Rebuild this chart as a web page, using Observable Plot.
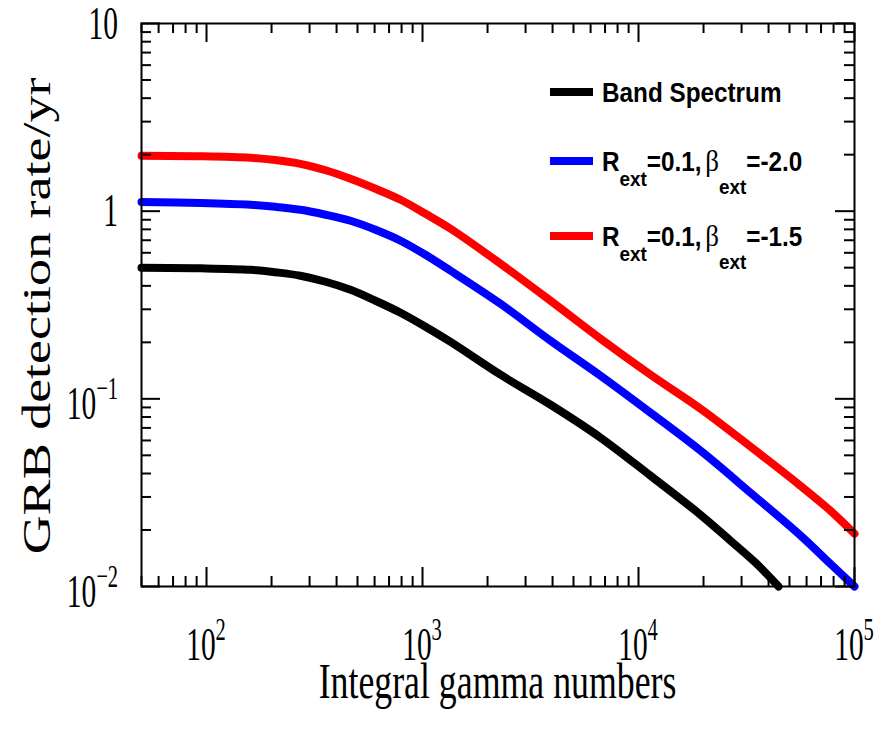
<!DOCTYPE html>
<html><head><meta charset="utf-8">
<script src="https://cdn.jsdelivr.net/npm/d3@7"></script>
<script src="https://cdn.jsdelivr.net/npm/@observablehq/plot@0.6"></script>
<style>body{margin:0;background:#fff}</style>
</head><body><div id="chart"></div>
<script>
// ---- data ----
const seriesNames = ["Band Spectrum", "R_ext=0.1, β_ext=-2.0", "R_ext=0.1, β_ext=-1.5"];
const seriesColors = ["#000000", "#0000ff", "#ff0000"];

const bandX = [50, 94, 160, 208, 272, 356, 464, 606, 791, 1032, 1349, 2297, 3916, 6673, 11370, 19370, 26660, 34800, 44500];
const bandY = [0.499, 0.496, 0.487, 0.4726, 0.453, 0.4206, 0.381, 0.3332, 0.2875, 0.2421, 0.201, 0.1344, 0.093, 0.0621, 0.0389, 0.0241, 0.01754, 0.01339, 0.0100];

const extX = [50, 94, 160, 208, 272, 356, 464, 606, 791, 1032, 1349, 2297, 3916, 6673, 11370, 19370, 33000, 56230, 77400, 100000];
const beta20Y = [1.119, 1.106, 1.082, 1.055, 1.017, 0.957, 0.889, 0.796, 0.696, 0.5856, 0.4815, 0.321, 0.204, 0.1327, 0.0843, 0.0529, 0.0316, 0.0187, 0.0132, 0.0100];
const beta15Y = [1.973, 1.961, 1.925, 1.872, 1.788, 1.652, 1.488, 1.316, 1.150, 0.968, 0.806, 0.525, 0.333, 0.209, 0.1344, 0.0886, 0.0556, 0.0344, 0.02534, 0.0191];

const xMajorTicks = [100, 1000, 10000, 100000];
const xTickExponents = ["2", "3", "4", "5"];
const yMajorTicks = [0.01, 0.1, 1, 10];
const yTickLabels = [["10", "−2"], ["10", "−1"], ["1", ""], ["10", ""]];
const xLabel = "Integral gamma numbers";
const yLabel = "GRB detection rate/yr";

// minor ticks 2..9 per decade
const xMinorTicks = [], yMinorTicks = [];
for (const d of [10, 100, 1000, 10000]) for (let k = 2; k <= 9; k++) { const v = k * d; if (v >= 50 && v < 1e5) xMinorTicks.push(v); }
for (const d of [0.01, 0.1, 1]) for (let k = 2; k <= 9; k++) yMinorTicks.push(k * d);

const rows = [
  ...bandX.map((x, i) => ({series: seriesNames[0], x, y: bandY[i]})),
  ...extX.map((x, i) => ({series: seriesNames[1], x, y: beta20Y[i]})),
  ...extX.map((x, i) => ({series: seriesNames[2], x, y: beta15Y[i]}))
];

// ---- layout ----
const W = 885, H = 731, mL = 141, mR = 31, mT = 23, mB = 145;
const plotW = W - mL - mR, plotH = H - mT - mB;
const majorLen = 19, minorLen = 10;
const tickStyle = {stroke: "#000", strokeWidth: 2};

const chart = Plot.plot({
  width: W, height: H,
  marginLeft: mL, marginRight: mR, marginTop: mT, marginBottom: mB,
  style: {background: "#fff"},
  x: {type: "log", domain: [50, 1e5], axis: null},
  y: {type: "log", domain: [0.01, 10], axis: null},
  color: {domain: seriesNames, range: seriesColors},
  marks: [
    Plot.line(rows, {x: "x", y: "y", z: "series", stroke: "series", strokeWidth: 8, curve: "catmull-rom", strokeLinecap: "round", strokeLinejoin: "round"}),
    // bottom ticks
    Plot.tickX(xMajorTicks, {x: d => d, insetTop: plotH - majorLen, ...tickStyle}),
    Plot.tickX(xMinorTicks, {x: d => d, insetTop: plotH - minorLen, ...tickStyle}),
    // top ticks
    Plot.tickX(xMajorTicks, {x: d => d, insetBottom: plotH - majorLen, ...tickStyle}),
    Plot.tickX(xMinorTicks, {x: d => d, insetBottom: plotH - minorLen, ...tickStyle}),
    // left ticks
    Plot.tickY(yMajorTicks, {y: d => d, insetRight: plotW - majorLen, ...tickStyle}),
    Plot.tickY(yMinorTicks, {y: d => d, insetRight: plotW - minorLen, ...tickStyle}),
    // right ticks
    Plot.tickY(yMajorTicks, {y: d => d, insetLeft: plotW - majorLen, ...tickStyle}),
    Plot.tickY(yMinorTicks, {y: d => d, insetLeft: plotW - minorLen, ...tickStyle}),
    Plot.frame({stroke: "#000", strokeWidth: 2})
  ]
});
document.getElementById("chart").appendChild(chart);

const svg = d3.select(chart);
const sx = chart.scale("x"), sy = chart.scale("y");
const serif = "'Liberation Serif', 'Times New Roman', serif";
const sans = "'Liberation Sans', Arial, sans-serif";

function label(x, y, scaleX, anchor, base, exp, size, expSize, expShift) {
  const g = svg.append("g").attr("transform", `translate(${x},${y}) scale(${scaleX},1)`);
  const t = g.append("text").attr("text-anchor", anchor).attr("font-family", serif)
    .attr("font-size", size).attr("fill", "#000").text(base);
  if (exp) t.append("tspan").attr("dy", -expShift).attr("font-size", expSize).text(exp);
  return g;
}

// x tick labels
const xBottom = H - mB;
xMajorTicks.forEach((v, i) => label(sx.apply(v), xBottom + 74, 0.64, "middle", "10", xTickExponents[i], 46, 32, 20));
// y tick labels
yMajorTicks.forEach((v, i) => {
  const [b, e] = yTickLabels[i];
  label(118, sy.apply(v) + (e ? 21 : 15.5), 0.64, "end", b, e, 46, 32, 20);
});

// axis titles
svg.append("g").attr("transform", `translate(${(mL + W - mR) / 2},698) scale(0.716,1)`)
  .append("text").attr("text-anchor", "middle").attr("font-family", serif).attr("font-size", 50).attr("fill", "#000").text(xLabel);
svg.append("g").attr("transform", `translate(50,316) scale(0.75,1) rotate(-90)`)
  .append("text").attr("text-anchor", "middle").attr("font-family", serif).attr("font-size", 54).attr("fill", "#000").text(yLabel);

// legend
const legendRowY = [92, 161, 236];
seriesNames.forEach((name, i) => {
  const y = legendRowY[i];
  svg.append("line").attr("x1", 550).attr("x2", 593).attr("y1", y).attr("y2", y)
    .attr("stroke", seriesColors[i]).attr("stroke-width", 8);
  const g = svg.append("g").attr("transform", `translate(602,${y + 9.5}) scale(0.9,1)`);
  const t = g.append("text").attr("text-anchor", "start").attr("font-family", sans)
    .attr("font-weight", "bold").attr("font-size", 27).attr("fill", "#000");
  const parts = name.split(/(_\w+|β)/).filter(s => s.length);
  let shift = 0, prevBeta = false;
  parts.forEach(p => {
    if (p.startsWith("_")) {
      const d = prevBeta ? 24 : 15;
      t.append("tspan").attr("dy", d).attr("font-size", 21).text(p.slice(1));
      shift = d; prevBeta = false;
    } else if (p === "β") {
      t.append("tspan").attr("dy", -shift).attr("dx", 4).attr("font-family", serif).attr("font-weight", "normal").attr("font-size", 30).text(p);
      shift = 0; prevBeta = true;
    } else {
      t.append("tspan").attr("dy", -shift).text(p.replace(", ", ","));
      shift = 0; prevBeta = false;
    }
  });
});
</script>
</body></html>
